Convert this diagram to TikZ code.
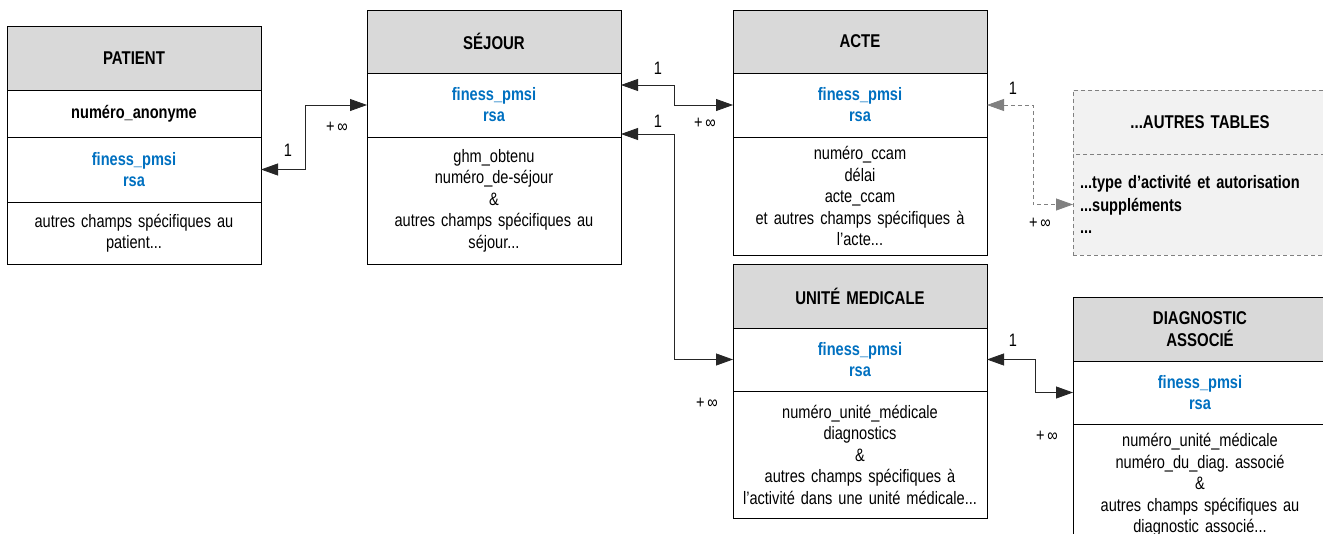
\documentclass[tikz,border=0pt]{standalone}
\usepackage{fontspec}
\setmainfont{Liberation Sans}[FakeStretch=0.81,WordSpace=0.7]
\usetikzlibrary{positioning,calc,arrows.meta}
\definecolor{hdrgray}{RGB}{217,217,217}
\definecolor{keyblue}{RGB}{0,112,192}
\definecolor{othergray}{RGB}{242,242,242}
\definecolor{dashgray}{RGB}{128,128,128}
\frenchspacing
\begin{document}
\begin{tikzpicture}[x=1pt,y=-1pt,font=\fontsize{18}{21.5}\selectfont]
            \tikzset{
                cell/.style={draw=black,line width=0.8pt,text width=250pt,align=center,
                    inner xsep=2pt,inner ysep=0pt,outer sep=0pt,anchor=north west},
                tblhead/.style={cell,fill=hdrgray,font=\fontsize{18.5}{21.5}\selectfont\bfseries},
                tblkey/.style={cell,text=keyblue,font=\fontsize{18}{21}\selectfont\bfseries},
                tblfields/.style={cell},
                link/.style={draw=black!85,line width=0.8pt,
                    {Triangle[length=17pt,width=12pt]}-{Triangle[length=17pt,width=12pt]}},
                card/.style={inner sep=0pt}}
            \useasboundingbox (0,0) rectangle (1323,533);
            \clip (0,0) rectangle (1323,533);
            % patient
            \node[tblhead,minimum height=64] (patH) at (7,26) {PATIENT};
            \node[tblkey,below=0pt of patH,minimum height=47,text=black] (patN) {numéro\_anonyme};
            \node[tblkey,below=0pt of patN,minimum height=65] (patK) {finess\_pmsi\\rsa};
            \node[tblfields,below=0pt of patK,minimum height=62] (patF) {autres champs spécifiques au\\patient...};
            % sejour
            \node[tblhead,minimum height=63] (sejH) at (367,10) {SÉJOUR};
            \node[tblkey,below=0pt of sejH,minimum height=64] (sejK) {finess\_pmsi\\rsa};
            \node[tblfields,below=0pt of sejK,minimum height=127] (sejF) {ghm\_obtenu\\numéro\_de-séjour\\\&\\autres champs spécifiques au\\séjour...};
            % acte
            \node[tblhead,minimum height=63] (acteH) at (733,10) {ACTE};
            \node[tblkey,below=0pt of acteH,minimum height=64] (acteK) {finess\_pmsi\\rsa};
            \node[tblfields,below=0pt of acteK,minimum height=118] (acteF) {numéro\_ccam\\délai\\acte\_ccam\\et autres champs spécifiques à\\l’acte...};
            % unite medicale
            \node[tblhead,minimum height=64] (uniH) at (733,264) {UNITÉ MEDICALE};
            \node[tblkey,below=0pt of uniH,minimum height=63] (uniK) {finess\_pmsi\\rsa};
            \node[tblfields,below=0pt of uniK,minimum height=127] (uniF) {numéro\_unité\_médicale\\diagnostics\\\&\\autres champs spécifiques à\\l’activité dans une unité médicale...};
            % diagnostic associe
            \node[tblhead,minimum height=64] (diagH) at (1073,297) {DIAGNOSTIC\\ASSOCIÉ};
            \node[tblkey,below=0pt of diagH,minimum height=63] (diagK) {finess\_pmsi\\rsa};
            \node[tblfields,below=0pt of diagK,minimum height=122] (diagF) {numéro\_unité\_médicale\\numéro\_du\_diag. associé\\\&\\autres champs spécifiques au\\diagnostic associé...};
            % autres tables
            \node[tblhead,minimum height=64,fill=othergray,draw=dashgray,dash pattern=on 4pt off 3pt] (autH) at (1073,90) {...AUTRES TABLES};
            \node[tblfields,below=0pt of autH,minimum height=101,fill=othergray,draw=dashgray,dash pattern=on 4pt off 3pt,
                align=left,text width=240pt,inner xsep=7pt,font=\fontsize{18}{22.5}\selectfont\bfseries] (autB) {...type d’activité et autorisation\\...suppléments\\...};
            % liens
            \draw[link] (patK.east) -- ++(44,0) |- (sejK.west);
            \draw[link] ($(sejK.north east)+(0,12)$) -- ++(53,0) |- (acteK.west);
            \draw[link] ($(sejK.south east)+(0,-3)$) -- ++(53,0) |- (uniK.west);
            \draw[link,draw=dashgray,dash pattern=on 4pt off 3pt] (acteK.east) -- ++(46,0) |- (autB.west);
            \draw[link] (uniK.east) -- ++(48,0) |- (diagK.west);
            % cardinalites
            \node[card] (c1) at (288,150) {1};
            \node[card] (n1) at (337,127) {+ ∞};
            \node[card] (c2) at (658,68) {1};
            \node[card] (n2) at (705,123) {+ ∞};
            \node[card] (c3) at (658,121) {1};
            \node[card] (n3) at (707,403) {+ ∞};
            \node[card] (c4) at (1013,88) {1};
            \node[card] (n4) at (1040,223) {+ ∞};
            \node[card] (c5) at (1013,340) {1};
            \node[card] (n5) at (1047,436) {+ ∞};
        \end{tikzpicture}
\end{document}
